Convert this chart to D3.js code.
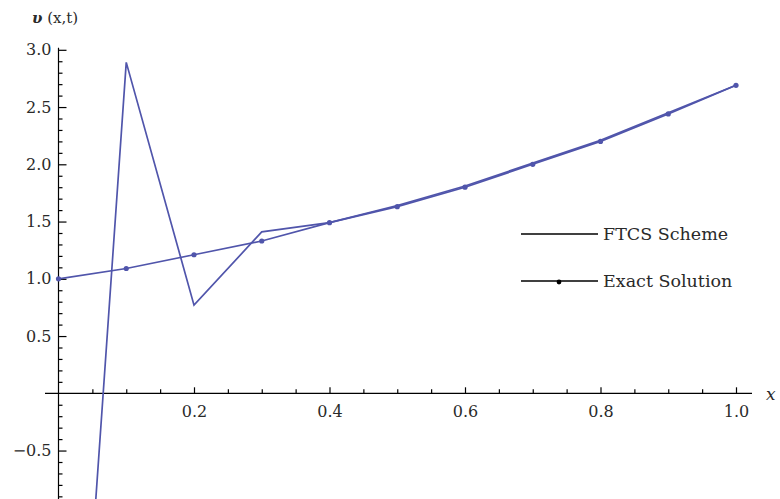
<!DOCTYPE html>
<html>
<head>
<meta charset="utf-8">
<script src="https://cdn.jsdelivr.net/npm/d3@7"></script>
<style>
  html, body { margin: 0; padding: 0; background: #fff; }
  svg { display: block; }
  text { font-family: "DejaVu Serif", "Liberation Serif", serif; fill: #2a2a2a; }
</style>
</head>
<body>
<svg id="chart" width="780" height="499"></svg>
<script>
// Grid points in x
const xs = [0, 0.1, 0.2, 0.3, 0.4, 0.5, 0.6, 0.7, 0.8, 0.9, 1.0];
// Numerical (FTCS) solution at the grid points
const ftcs = [-5.6, 2.89, 0.77, 1.41, 1.49, 1.64, 1.81, 2.01, 2.21, 2.45, 2.69];
// Exact solution at the grid points
const exact = [1.00, 1.09, 1.21, 1.33, 1.49, 1.63, 1.80, 2.00, 2.20, 2.44, 2.69];
// Axis ticks
const xMajorTicks = [0.2, 0.4, 0.6, 0.8, 1.0];
const yMajorTicks = [-0.5, 0.5, 1.0, 1.5, 2.0, 2.5, 3.0];
const legendLabels = ["FTCS Scheme", "Exact Solution"];

const svg = d3.select("#chart");
const lineColor = "#5055ab";

const x = d3.scaleLinear().domain([0, 1]).range([58.5, 736]);
const y = d3.scaleLinear().domain([0, 3]).range([393.3, 49.8]);

// Minor tick positions
const xMinor = d3.range(1, 21).map(i => +(i * 0.05).toFixed(2))
  .filter(v => !xMajorTicks.some(t => Math.abs(t - v) < 1e-9));
const yMinor = d3.range(-9, 30).map(i => +(i * 0.1).toFixed(1))
  .filter(v => v !== 0 && !yMajorTicks.some(t => Math.abs(t - v) < 1e-9));

// Axis lines
svg.append("line").attr("x1", 45).attr("x2", 752)
  .attr("y1", y(0)).attr("y2", y(0))
  .attr("stroke", "#000").attr("stroke-width", 1.2);
svg.append("line").attr("x1", x(0)).attr("x2", x(0))
  .attr("y1", y(3) - 2).attr("y2", 499)
  .attr("stroke", "#000").attr("stroke-width", 1.2);

// y axis: ticks point inward (right), labels on the left
const yAxis = svg.append("g").attr("transform", `translate(${x(0)},0)`)
  .call(d3.axisLeft(y).tickValues(yMajorTicks).tickSize(-8).tickPadding(7)
    .tickFormat(d3.format(".1f")));
const yMinorAxis = svg.append("g").attr("transform", `translate(${x(0)},0)`)
  .call(d3.axisLeft(y).tickValues(yMinor).tickSize(-4).tickFormat(""));

// x axis: ticks point upward, labels below
const xAxis = svg.append("g").attr("transform", `translate(0,${y(0)})`)
  .call(d3.axisBottom(x).tickValues(xMajorTicks).tickSize(-6).tickPadding(12)
    .tickFormat(d3.format(".1f")));
const xMinorAxis = svg.append("g").attr("transform", `translate(0,${y(0)})`)
  .call(d3.axisBottom(x).tickValues(xMinor).tickSize(-4).tickFormat(""));

[yAxis, yMinorAxis, xAxis, xMinorAxis].forEach(g => {
  g.select(".domain").remove();
  g.selectAll("line").attr("stroke", "#000").attr("stroke-width", 1.2);
  g.selectAll("text").attr("font-size", 16).attr("font-family", "DejaVu Serif").attr("fill", "#2a2a2a");
});

// Axis labels
const yl = svg.append("text").attr("x", 32).attr("y", 23).attr("font-size", 15);
yl.append("tspan").attr("font-style", "italic").attr("font-weight", "bold").text("υ");
yl.append("tspan").text(" (x,t)");
svg.append("text").attr("x", 766).attr("y", 400).attr("font-size", 17)
  .attr("font-style", "italic").text("x");

// Data lines
const line = d3.line().x((d, i) => x(xs[i])).y(d => y(d));

svg.append("path").datum(exact)
  .attr("d", line).attr("fill", "none")
  .attr("stroke", lineColor).attr("stroke-width", 1.7);

svg.append("path").datum(ftcs)
  .attr("d", line).attr("fill", "none")
  .attr("stroke", lineColor).attr("stroke-width", 1.7)
  .attr("stroke-linejoin", "miter");

svg.append("g").selectAll("circle").data(exact).join("circle")
  .attr("cx", (d, i) => x(xs[i])).attr("cy", d => y(d))
  .attr("r", 2.6).attr("fill", lineColor);

// Legend
const legend = svg.append("g");
const legendY = [234, 281];
legendLabels.forEach((label, i) => {
  legend.append("line").attr("x1", 521).attr("x2", 598)
    .attr("y1", legendY[i]).attr("y2", legendY[i])
    .attr("stroke", "#000").attr("stroke-width", 1.3);
  if (i === 1) {
    legend.append("circle").attr("cx", 559).attr("cy", legendY[i] + 1)
      .attr("r", 2.4).attr("fill", "#000");
  }
  legend.append("text").attr("x", 603).attr("y", legendY[i] + 6)
    .attr("font-size", 17.5).text(label);
});
</script>
</body>
</html>
